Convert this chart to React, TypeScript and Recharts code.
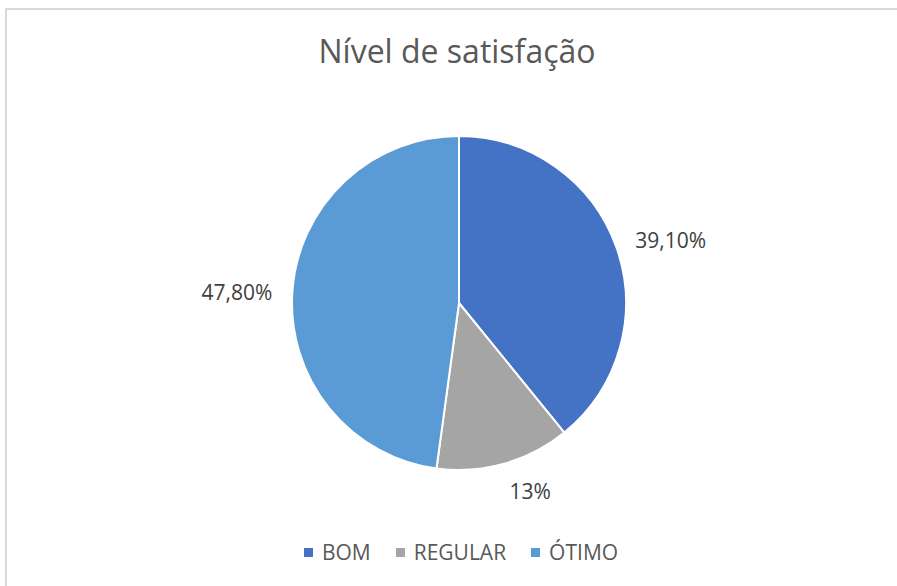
import React from 'react';
import { PieChart, Pie, Cell, Legend } from 'recharts';

const categories = ['BOM', 'REGULAR', 'ÓTIMO'];
const values = [39.1, 13, 47.8];
const valueLabels = ['39,10%', '13%', '47,80%'];
const colors = ['#4472C4', '#A5A5A5', '#5B9BD5'];

const data = categories.map((name, i) => ({ name, value: values[i], label: valueLabels[i] }));

const FONT = 'Open Sans, "Noto Sans", sans-serif';
const RAD = Math.PI / 180;

const renderLabel = (props: any) => {
  const { cx, cy, midAngle, outerRadius, index } = props;
  const r = outerRadius + 20;
  const cos = Math.cos(-midAngle * RAD);
  const sin = Math.sin(-midAngle * RAD);
  const x = cx + r * cos;
  const y = cy + r * sin + (sin > 0.5 ? 8 : 0) + (Math.abs(sin) < 0.3 ? 2 : 0);
  return (
    <text
      x={x}
      y={y}
      fill="#404040"
      fontSize={21}
      fontFamily={FONT}
      textAnchor={cos >= 0 ? 'start' : 'end'}
      dominantBaseline="central"
    >
      {valueLabels[index]}
    </text>
  );
};

const renderLegend = () => (
  <div style={{ display: 'flex', justifyContent: 'center', alignItems: 'center', fontFamily: FONT, fontSize: 21, color: '#595959', lineHeight: '28px' }}>
    {categories.map((c, i) => (
      <div key={c} style={{ display: 'flex', alignItems: 'center', marginRight: i < categories.length - 1 ? 25 : 0 }}>
        <span style={{ display: 'inline-block', width: 9, height: 9, background: colors[i], marginRight: 9 }} />
        <span>{c}</span>
      </div>
    ))}
  </div>
);

export default function App() {
  return (
    <div style={{ position: 'absolute', left: 0, top: 0, width: 897, height: 586, overflow: 'hidden', background: '#fff' }}>
      <div style={{ position: 'absolute', left: 5, top: 8, width: 910, height: 600, border: '2px solid #d9d9d9', boxSizing: 'border-box' }} />
      <div style={{ position: 'absolute', left: 0, top: 29, width: 914, textAlign: 'center', fontFamily: FONT, fontSize: 32, color: '#595959', lineHeight: '44px' }}>
        Nível de satisfação
      </div>
      <div style={{ position: 'absolute', left: 0, top: 0 }}>
        <PieChart width={897} height={586} margin={{ top: 0, right: 0, bottom: 0, left: 0 }}>
          <Pie
            data={data}
            dataKey="value"
            nameKey="name"
            cx={459}
            cy={303}
            outerRadius={167}
            startAngle={90}
            endAngle={-270}
            stroke="#ffffff"
            strokeWidth={2}
            label={renderLabel}
            labelLine={false}
            isAnimationActive={false}
          >
            {data.map((d, i) => (
              <Cell key={d.name} fill={colors[i]} />
            ))}
          </Pie>
          <Legend content={renderLegend} wrapperStyle={{ position: 'absolute', top: 538, left: 0, width: 922 }} />
        </PieChart>
      </div>
    </div>
  );
}
